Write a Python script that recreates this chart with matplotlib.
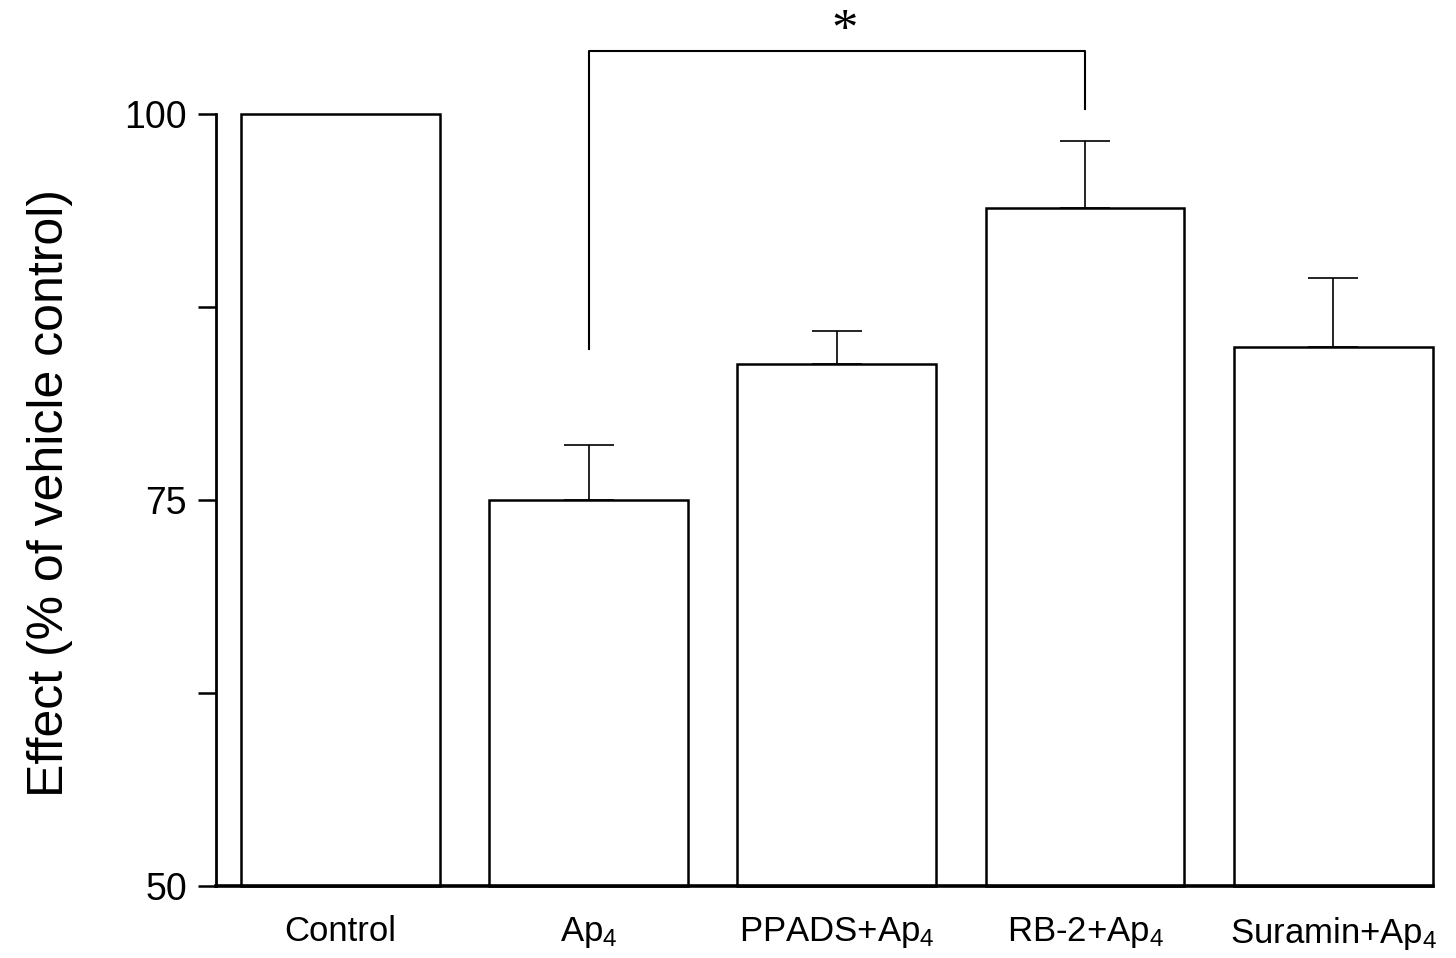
import matplotlib.pyplot as plt
import numpy as np

plt.rcParams['font.family'] = ['Liberation Sans', 'DejaVu Sans']
plt.rcParams['mathtext.fontset'] = 'custom'
plt.rcParams['mathtext.rm'] = 'Liberation Sans'
plt.rcParams['mathtext.it'] = 'Liberation Sans:italic'

groups = ["Control", "Ap$_4$", "PPADS+Ap$_4$", "RB-2+Ap$_4$", "Suramin+Ap$_4$"]
effect = [100.0, 75.0, 83.8, 93.9, 84.9]
sem = [0.0, 3.55, 2.15, 4.35, 4.5]

base = 50
fig = plt.figure(figsize=(14.56, 9.58), dpi=100)
ax = fig.add_axes([0.1484, 0.0752, 0.8356, 0.8058])

x = np.arange(len(groups))
ax.bar(x, np.array(effect) - base, bottom=base, width=0.8, color="white",
       edgecolor="black", linewidth=1.8, zorder=2, clip_on=False)
# upper error bars only
for xi, v, e in zip(x, effect, sem):
    if e > 0:
        ax.errorbar(xi, v, yerr=[[0], [e]], fmt="none", ecolor="black",
                    elinewidth=1.2, capsize=18, capthick=1.2, zorder=1,
                    clip_on=False)

ax.set_xlim(-0.5, 4.4)
ax.set_ylim(base, 100)
ax.set_yticks([50, 62.5, 75, 87.5, 100])
ax.set_yticklabels(["50", "", "75", "", "100"])
ax.set_xticks(x)
ax.set_xticklabels(groups, fontsize=25)
ax.tick_params(axis="x", length=0, pad=21)
ax.tick_params(axis="y", direction="out", length=13, width=1.8,
               labelsize=27, pad=8)

ax.spines["top"].set_visible(False)
ax.spines["right"].set_visible(False)
ax.spines["left"].set_linewidth(2.0)
ax.spines["bottom"].set_linewidth(2.6)
ax.spines["bottom"].set_zorder(3)

ax.set_ylabel("Effect (% of vehicle control)", fontsize=36)
ax.yaxis.set_label_coords(-0.118, 0.509)

# significance bracket between Ap4 and RB-2+Ap4
ax.plot([1, 1, 3, 3], [84.8, 104.1, 104.1, 100.3], color="black",
        linewidth=1.5, clip_on=False)
ax.text(2.03, 105.3, "*", fontsize=38, family="Liberation Serif",
        ha="center", va="center")

fig.savefig("out.png", dpi=100)
